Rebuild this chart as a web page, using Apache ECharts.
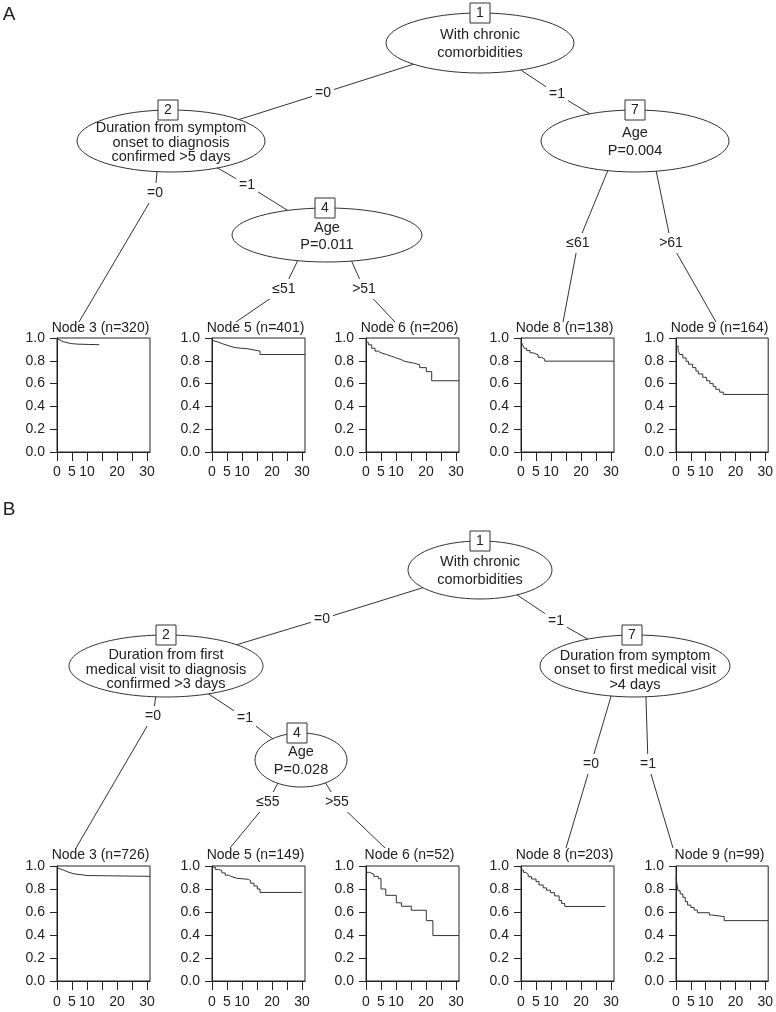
<!DOCTYPE html>
<html><head><meta charset="utf-8">
<script src="https://cdn.jsdelivr.net/npm/echarts@6/dist/echarts.min.js"></script>
<style>html,body{margin:0;padding:0;background:#fff}#c{width:776px;height:1012px}</style>
</head><body><div id="c"></div>
<script>
// ---------- DATA ----------
const xTickValues = [0, 5, 10, 15, 20, 25, 30];
const xLabelValues = [0, 5, 10, 20, 30];
const yTickValues = [0, 0.2, 0.4, 0.6, 0.8, 1.0];

const titlesA = ['Node 3 (n=320)', 'Node 5 (n=401)', 'Node 6 (n=206)', 'Node 8 (n=138)', 'Node 9 (n=164)'];
const titlesB = ['Node 3 (n=726)', 'Node 5 (n=149)', 'Node 6 (n=52)', 'Node 8 (n=203)', 'Node 9 (n=99)'];

// Kaplan-Meier step curves: [day, survival]
const kmA3 = [[0,0.99],[0.5,0.982],[1,0.975],[1.5,0.968],[2,0.962],[3,0.955],[4,0.95],[5,0.946],[7,0.941],[14.1,0.941]];
const kmA5 = [[0,0.98],[0.5,0.972],[1,0.965],[2,0.955],[3,0.945],[4,0.937],[5,0.928],[6,0.92],[7,0.915],[8,0.91],[10,0.905],[12,0.9],[13,0.895],[14,0.89],[15,0.885],[16,0.855],[31,0.855]];
const kmA6 = [[0,0.97],[0.3,0.96],[0.8,0.94],[1.9,0.91],[3,0.885],[4.1,0.87],[5,0.855],[6.8,0.84],[8.5,0.825],[10.1,0.81],[11.8,0.795],[12.9,0.78],[15.9,0.765],[17.9,0.74],[20.1,0.705],[21.9,0.625],[31,0.625]];
const kmA8 = [[0,0.97],[0.55,0.94],[1.1,0.91],[1.9,0.89],[3,0.87],[4.1,0.853],[5.7,0.83],[6.8,0.815],[7.9,0.797],[31,0.797]];
const kmA9 = [[0,0.93],[0.7,0.89],[1.2,0.855],[2.3,0.825],[3.4,0.795],[4.2,0.77],[5.6,0.74],[6.7,0.71],[7.5,0.685],[9,0.655],[10.3,0.625],[11.4,0.6],[12.5,0.575],[13.4,0.55],[14.7,0.525],[15.9,0.505],[31,0.505]];

const kmB3 = [[0,0.985],[0.5,0.975],[1,0.967],[2,0.955],[3,0.945],[4,0.937],[5,0.93],[6,0.925],[8,0.917],[10,0.91],[31,0.91]];
const kmB5 = [[0,0.99],[1.1,0.97],[2.2,0.96],[3.3,0.94],[4.4,0.92],[5.5,0.907],[6.6,0.893],[8.3,0.884],[12.1,0.872],[12.9,0.85],[14,0.826],[15.1,0.8],[16,0.77],[30,0.77]];
const kmB6 = [[0,0.945],[1.1,0.93],[2.6,0.91],[4.1,0.89],[5,0.8],[6.6,0.745],[10.1,0.68],[11.8,0.65],[15.1,0.615],[20.1,0.525],[22.3,0.395],[31,0.395]];
const kmB8 = [[0,0.965],[0.8,0.945],[1.65,0.928],[2.4,0.907],[3.5,0.887],[5,0.864],[6,0.835],[7.4,0.81],[8.5,0.79],[9.8,0.768],[11.2,0.74],[12.7,0.7],[13.5,0.675],[14.6,0.648],[28.1,0.648]];
const kmB9 = [[0,0.9],[0.66,0.785],[1.4,0.757],[2.3,0.728],[3.1,0.69],[3.9,0.66],[5,0.64],[6.1,0.617],[7.2,0.594],[11.2,0.574],[11.9,0.56],[16.2,0.525],[31,0.525]];

const curvesA = [kmA3, kmA5, kmA6, kmA8, kmA9];
const curvesB = [kmB3, kmB5, kmB6, kmB8, kmB9];

// tree node texts
const treeTextA = {
  1: ['With chronic', 'comorbidities'],
  2: ['Duration from symptom', 'onset to diagnosis', 'confirmed >5 days'],
  4: ['Age', 'P=0.011'],
  7: ['Age', 'P=0.004']
};
const treeTextB = {
  1: ['With chronic', 'comorbidities'],
  2: ['Duration from first', 'medical visit to diagnosis', 'confirmed >3 days'],
  4: ['Age', 'P=0.028'],
  7: ['Duration from symptom', 'onset to first medical visit', '>4 days']
};
const edgeLabelsA = ['=0', '=1', '=0', '=1', '\u226451', '>51', '\u226461', '>61'];
const edgeLabelsB = ['=0', '=1', '=0', '=1', '\u226455', '>55', '=0', '=1'];

// ---------- LAYOUT ----------
const FONT = '"Liberation Sans", Arial, Helvetica, sans-serif';
const INK = '#222';
const plotLefts = [57, 212, 366, 521, 676];
const plotW = 93;
const panelA = {top: 338, h: 114, labMargin: 13};
const panelB = {top: 866, h: 115, labMargin: 14};

const grids = [], xAxes = [], yAxes = [], series = [];
function addPanel(panel, curves) {
  curves.forEach((c, i) => {
    const gi = grids.length;
    grids.push({left: plotLefts[i], top: panel.top, width: plotW, height: panel.h,
      show: true, borderColor: INK, borderWidth: 1, backgroundColor: 'transparent'});
    xAxes.push({type: 'value', gridIndex: gi, min: 0, max: 31,
      axisLine: {show: true, lineStyle: {color: INK}},
      axisTick: {show: true, length: 9, lineStyle: {color: INK}, customValues: xTickValues},
      axisLabel: {color: INK, fontSize: 14, fontFamily: FONT, margin: panel.labMargin, customValues: xLabelValues},
      splitLine: {show: false}});
    yAxes.push({type: 'value', gridIndex: gi, min: 0, max: 1, interval: 0.2,
      axisLine: {show: true, lineStyle: {color: INK}},
      axisTick: {show: true, length: 7, lineStyle: {color: INK}},
      axisLabel: {color: INK, fontSize: 14, fontFamily: FONT, margin: 12,
        formatter: v => v.toFixed(1)},
      splitLine: {show: false}});
    series.push({type: 'line', xAxisIndex: gi, yAxisIndex: gi, data: c, step: 'end',
      symbol: 'none', silent: true, animation: false,
      lineStyle: {color: '#333', width: 1}});
  });
}
addPanel(panelA, curvesA);
addPanel(panelB, curvesB);

const graphics = [];
function txt(x, y, s, size, extra) {
  graphics.push(Object.assign({type: 'text', x: x, y: y, z: 20, silent: true,
    style: {text: s, fill: INK, font: size + 'px ' + FONT, align: 'center', verticalAlign: 'middle'}}, extra || {}));
}
function drawTree(nodes, texts, edges, labels, titles, titleY) {
  edges.forEach((e, k) => {
    graphics.push({type: 'polyline', z: 5, silent: true,
      shape: {points: [e.from, e.lab, e.to]}, style: {stroke: '#333', lineWidth: 1, fill: null}});
    graphics.push({type: 'text', x: e.lab[0], y: e.lab[1], z: 8, silent: true,
      style: {text: labels[k], fill: INK, font: '14px ' + FONT, align: 'center', verticalAlign: 'middle',
        backgroundColor: '#fff', padding: [3, 3]}});
  });
  Object.keys(nodes).forEach(id => {
    const n = nodes[id];
    graphics.push({type: 'ellipse', z: 10, silent: true, shape: {cx: n.cx, cy: n.cy, rx: n.rx, ry: n.ry},
      style: {fill: '#fff', stroke: '#333', lineWidth: 1}});
    graphics.push({type: 'rect', z: 11, silent: true, shape: {x: n.bx - 10, y: n.cy - n.ry - 10, width: 20, height: 20},
      style: {fill: '#fff', stroke: '#333', lineWidth: 1}});
    txt(n.bx, n.cy - n.ry + 0.5, id, 14);
    texts[id].forEach((s, j) => txt(n.cx, n.ty[j], s, 14.5));
  });
  titles.forEach((t, i) => txt(plotLefts[i] + plotW / 2 - 3, titleY, t, 14));
}

const nodesA = {
  1: {cx: 480, cy: 43, rx: 94, ry: 30, bx: 480, ty: [35, 53]},
  2: {cx: 171, cy: 141, rx: 94, ry: 31, bx: 168, ty: [128, 143, 157]},
  4: {cx: 327, cy: 235, rx: 95, ry: 27, bx: 325, ty: [228, 245]},
  7: {cx: 635, cy: 141, rx: 94, ry: 31, bx: 635, ty: [133, 151]}
};
const edgesA = [
  {from: [480, 43], lab: [323, 93], to: [171, 141]},
  {from: [480, 43], lab: [557, 94], to: [635, 141]},
  {from: [160, 141], lab: [155, 193], to: [79, 322]},
  {from: [171, 141], lab: [247, 185], to: [327, 235]},
  {from: [310, 235], lab: [284, 289], to: [236, 322]},
  {from: [340, 235], lab: [364, 289], to: [395, 322]},
  {from: [620, 141], lab: [578, 243], to: [563, 322]},
  {from: [650, 141], lab: [671, 243], to: [716, 322]}
];
const nodesB = {
  1: {cx: 480, cy: 570, rx: 72, ry: 29, bx: 480, ty: [562, 580]},
  2: {cx: 166, cy: 666, rx: 97, ry: 31, bx: 166, ty: [655, 670, 684]},
  4: {cx: 301, cy: 760, rx: 46, ry: 27, bx: 297, ty: [752, 770]},
  7: {cx: 635, cy: 666, rx: 95, ry: 31, bx: 632, ty: [656, 670, 685]}
};
const edgesB = [
  {from: [480, 570], lab: [322, 619], to: [166, 666]},
  {from: [480, 570], lab: [556, 621], to: [635, 666]},
  {from: [160, 666], lab: [153, 716], to: [76, 848]},
  {from: [166, 666], lab: [245, 718], to: [301, 760]},
  {from: [290, 760], lab: [268, 802], to: [230, 848]},
  {from: [312, 760], lab: [337, 802], to: [385, 848]},
  {from: [620, 666], lab: [591, 764], to: [566, 848]},
  {from: [645, 666], lab: [648, 764], to: [673, 848]}
];
drawTree(nodesA, treeTextA, edgesA, edgeLabelsA, titlesA, 328);
drawTree(nodesB, treeTextB, edgesB, edgeLabelsB, titlesB, 855);
txt(9, 15, 'A', 19);
txt(9, 510, 'B', 19);

const chart = echarts.init(document.getElementById('c'), null, {renderer: 'canvas'});
chart.setOption({
  animation: false,
  backgroundColor: '#fff',
  grid: grids, xAxis: xAxes, yAxis: yAxes, series: series,
  graphic: {elements: graphics}
});
</script></body></html>
